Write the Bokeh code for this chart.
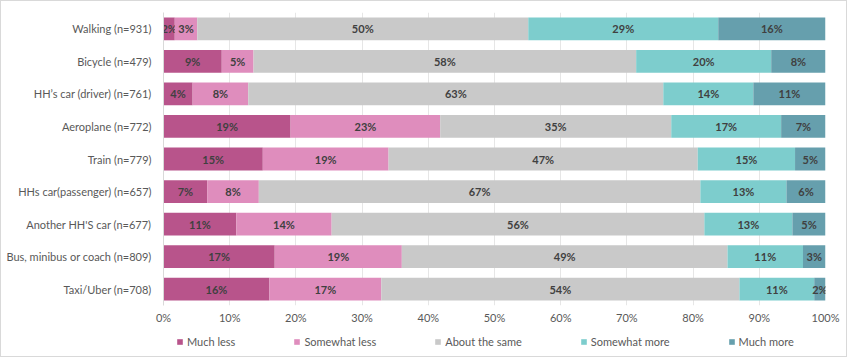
import numpy as np
from bokeh.plotting import figure
from bokeh.layouts import column
from bokeh.models import ColumnDataSource, Legend, LegendItem, FactorRange, NumeralTickFormatter, FixedTicker
from bokeh.core.properties import value
from bokeh.embed import file_html
from bokeh.resources import INLINE

categories = ["Walking (n=931)", "Bicycle (n=479)", "HH\u2019s car (driver) (n=761)", "Aeroplane (n=772)",
              "Train (n=779)", "HHs car(passenger) (n=657)", "Another HH'S car (n=677)",
              "Bus, minibus or coach (n=809)", "Taxi/Uber (n=708)"]
series = ["Much less", "Somewhat less", "About the same", "Somewhat more", "Much more"]
much_less      = [1.7, 8.8, 4.4, 19.2, 15.0, 6.6, 11.0, 16.8, 16.0]
somewhat_less  = [3.4, 4.8, 8.4, 22.6, 19.0, 7.8, 14.4, 19.2, 16.9]
about_same     = [50.0, 57.8, 62.7, 34.9, 46.7, 66.7, 56.3, 49.2, 54.1]
somewhat_more  = [28.7, 20.4, 13.6, 16.6, 14.7, 13.0, 13.3, 11.4, 11.3]
much_more      = [16.2, 8.2, 10.9, 6.7, 4.6, 5.9, 5.0, 3.4, 1.7]
x_ticks = [0, 10, 20, 30, 40, 50, 60, 70, 80, 90, 100]

colors = ["#B8548B", "#DF8DBD", "#C9C9C9", "#7DCDCD", "#669FAD"]
FONT = "Lato"

p = figure(y_range=FactorRange(*reversed(categories)), x_range=(0, 1.0),
           frame_width=662, frame_height=293, output_backend="svg", toolbar_location=None,
           min_border_left=162, min_border_top=11, min_border_right=21, min_border_bottom=22)
p.outline_line_color = None
p.background_fill_color = "white"

data = [much_less, somewhat_less, about_same, somewhat_more, much_more]
left = np.zeros(len(categories))
for name, vals, col in zip(series, data, colors):
    v = np.array(vals) / 100.0
    src = ColumnDataSource(dict(y=categories, left=left.copy(), right=left + v,
                                mid=left + v / 2, lab=[f"{round(x):.0f}%" for x in vals]))
    p.hbar(y="y", left="left", right="right", height=0.7, source=src,
           fill_color=col, line_color=None)
    p.text(x="mid", y="y", text="lab", source=src, text_align="center", text_baseline="middle",
           text_font=value(FONT), text_font_size="11px", text_font_style="bold", text_color="#404040")
    left = left + v

p.xaxis.ticker = FixedTicker(ticks=[t / 100 for t in x_ticks])
p.xaxis.formatter = NumeralTickFormatter(format="0%")
p.xaxis.axis_line_color = None
p.xaxis.major_tick_line_color = None
p.xaxis.minor_tick_line_color = None
p.xaxis.major_tick_out = 0
p.xaxis.minor_tick_out = 0
p.xaxis.major_label_text_font = FONT
p.xaxis.major_label_text_font_size = "11px"
p.xaxis.major_label_text_color = "#595959"
p.xaxis.major_label_standoff = 5

p.yaxis.axis_line_color = "#D9D9D9"
p.yaxis.major_tick_line_color = None
p.yaxis.minor_tick_line_color = None
p.yaxis.major_tick_out = 0
p.yaxis.minor_tick_out = 0
p.yaxis.major_label_text_font = FONT
p.yaxis.major_label_text_font_size = "11px"
p.yaxis.major_label_text_color = "#595959"
p.yaxis.major_label_standoff = 12

p.xgrid.grid_line_color = "#E6E6E6"
p.ygrid.grid_line_color = None
p.y_range.range_padding = 0

# separate strip for the legend (its frame is aligned with the main plot's frame)
lf = figure(width=162 + 662 + 21, height=29, x_range=(0, 1), y_range=(0, 1),
            output_backend="svg", toolbar_location=None, x_axis_type=None, y_axis_type=None,
            min_border_left=0, min_border_right=0, min_border_top=0, min_border_bottom=0)
lf.outline_line_color = None
lf.xgrid.grid_line_color = None
lf.ygrid.grid_line_color = None
# legend swatches: one off-range point each, so the legend has a colour to draw
swatches = [lf.rect(x=[-10], y=[-10], width=0.1, height=0.1, fill_color=c, line_color=None)
            for c in colors]
legend = Legend(items=[LegendItem(label=s, renderers=[r]) for s, r in zip(series, swatches)],
                orientation="horizontal", glyph_width=7, glyph_height=7, spacing=58,
                label_standoff=4, label_text_font=FONT, label_text_font_size="11px",
                label_text_color="#595959", border_line_color=None, background_fill_alpha=0,
                padding=0, margin=0, label_height=10, location=(13, 8))
lf.add_layout(legend, "center")

layout = column(p, lf, spacing=0)
layout.styles = {"border": "1px solid #D9D9D9"}

open("out.html", "w").write(file_html(layout, INLINE))
